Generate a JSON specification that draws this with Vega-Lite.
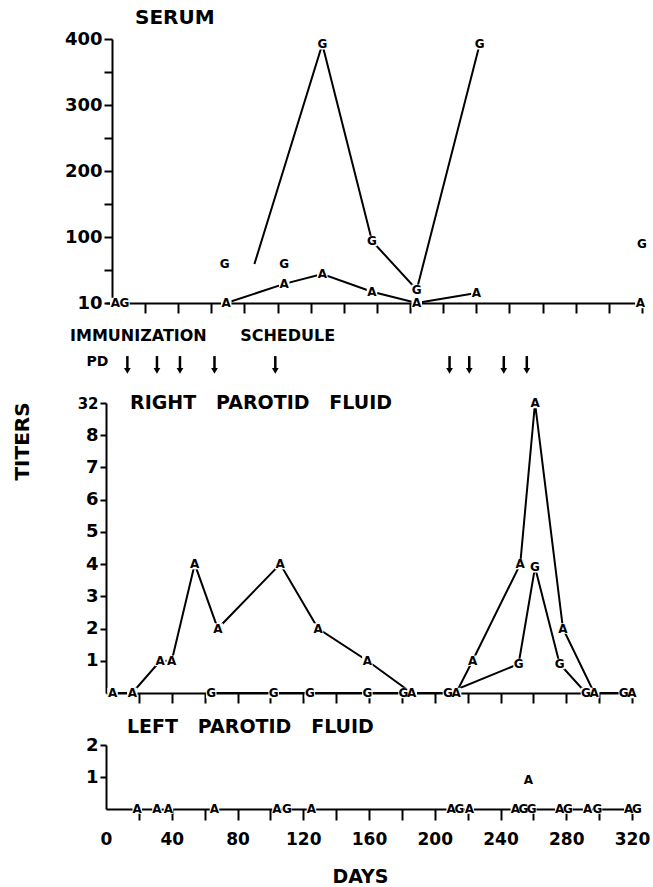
{
  "$schema": "https://vega.github.io/schema/vega-lite/v6.json",
  "padding": {"left": 12, "top": 8, "right": 5, "bottom": 5},
  "spacing": 14,
  "config": {
    "view": {"stroke": null},
    "font": "DejaVu Sans",
    "axis": {"domainColor": "black", "domainWidth": 2, "tickColor": "black", "tickWidth": 2, "labelColor": "black", "labelFont": "DejaVu Sans", "labelFontWeight": "bold", "grid": false, "titleColor": "black", "titleFont": "DejaVu Sans", "titleFontWeight": "bold"},
    "title": {"font": "DejaVu Sans", "fontWeight": "bold", "color": "black", "anchor": "start", "frame": "group"},
    "text": {"font": "DejaVu Sans"}
  },
  "resolve": {"scale": {"x": "independent", "y": "independent"}},
  "datasets": {
    "serum": [
      {"day": 2, "value": 0, "letter": "A", "line": null},
      {"day": 7.5, "value": 0, "letter": "G", "line": null},
      {"day": 68, "value": 59, "letter": "G", "line": null},
      {"day": 104, "value": 59, "letter": "G", "line": null},
      {"day": 86, "value": 59, "letter": "", "line": "G"},
      {"day": 127, "value": 392, "letter": "G", "line": "G"},
      {"day": 157, "value": 94, "letter": "G", "line": "G"},
      {"day": 184, "value": 20, "letter": "G", "line": "G"},
      {"day": 222, "value": 392, "letter": "G", "line": "G"},
      {"day": 320, "value": 89, "letter": "G", "line": null},
      {"day": 69, "value": 0, "letter": "A", "line": "A"},
      {"day": 104, "value": 29, "letter": "A", "line": "A"},
      {"day": 127, "value": 44, "letter": "A", "line": "A"},
      {"day": 157, "value": 17, "letter": "A", "line": "A"},
      {"day": 184, "value": 0, "letter": "A", "line": "A"},
      {"day": 220, "value": 15, "letter": "A", "line": "A"},
      {"day": 319, "value": 0, "letter": "A", "line": null}
    ],
    "schedule": [
      {"day": 13}, {"day": 31}, {"day": 45}, {"day": 66}, {"day": 103},
      {"day": 209}, {"day": 221}, {"day": 242}, {"day": 256}
    ],
    "right": [
      {"day": 4, "value": 0, "letter": "A", "line": "A"},
      {"day": 16, "value": 0, "letter": "A", "line": "A"},
      {"day": 33, "value": 1, "letter": "A", "line": "A"},
      {"day": 40, "value": 1, "letter": "A", "line": "A"},
      {"day": 54, "value": 4, "letter": "A", "line": "A"},
      {"day": 68, "value": 2, "letter": "A", "line": "A"},
      {"day": 106, "value": 4, "letter": "A", "line": "A"},
      {"day": 129, "value": 2, "letter": "A", "line": "A"},
      {"day": 159, "value": 1, "letter": "A", "line": "A"},
      {"day": 186, "value": 0, "letter": "A", "line": "A"},
      {"day": 213, "value": 0, "letter": "A", "line": "A"},
      {"day": 223, "value": 1, "letter": "A", "line": "A"},
      {"day": 252, "value": 4, "letter": "A", "line": "A"},
      {"day": 261, "value": 9, "letter": "A", "line": "A"},
      {"day": 278, "value": 2, "letter": "A", "line": "A"},
      {"day": 297, "value": 0, "letter": "A", "line": "A"},
      {"day": 320, "value": 0, "letter": "A", "line": "A"},
      {"day": 64, "value": 0, "letter": "G", "line": "G"},
      {"day": 102, "value": 0, "letter": "G", "line": "G"},
      {"day": 124, "value": 0, "letter": "G", "line": "G"},
      {"day": 159, "value": 0, "letter": "G", "line": "G"},
      {"day": 181, "value": 0, "letter": "G", "line": "G"},
      {"day": 208, "value": 0, "letter": "G", "line": "G"},
      {"day": 251, "value": 0.9, "letter": "G", "line": "G"},
      {"day": 261, "value": 3.9, "letter": "G", "line": "G"},
      {"day": 276, "value": 0.9, "letter": "G", "line": "G"},
      {"day": 292, "value": 0, "letter": "G", "line": "G"},
      {"day": 315, "value": 0, "letter": "G", "line": "G"}
    ],
    "left": [
      {"day": 19, "value": 0, "letter": "A"},
      {"day": 31, "value": 0, "letter": "A"},
      {"day": 38, "value": 0, "letter": "A"},
      {"day": 66, "value": 0, "letter": "A"},
      {"day": 104, "value": 0, "letter": "A"},
      {"day": 110, "value": 0, "letter": "G"},
      {"day": 125, "value": 0, "letter": "A"},
      {"day": 210, "value": 0, "letter": "A"},
      {"day": 215, "value": 0, "letter": "G"},
      {"day": 221, "value": 0, "letter": "A"},
      {"day": 249, "value": 0, "letter": "A"},
      {"day": 254, "value": 0, "letter": "G"},
      {"day": 259, "value": 0, "letter": "G"},
      {"day": 257, "value": 0.9, "letter": "A"},
      {"day": 276, "value": 0, "letter": "A"},
      {"day": 281, "value": 0, "letter": "G"},
      {"day": 293, "value": 0, "letter": "A"},
      {"day": 299, "value": 0, "letter": "G"},
      {"day": 318, "value": 0, "letter": "A"},
      {"day": 323, "value": 0, "letter": "G"}
    ]
  },
  "vconcat": [
    {
      "width": 536,
      "height": 264,
      "title": {"text": "SERUM", "fontSize": 20, "dx": 29, "offset": 2},
      "data": {"name": "serum"},
      "encoding": {
        "x": {"field": "day", "type": "quantitative", "scale": {"domain": [-3.6, 320], "nice": false, "zero": false},
          "axis": {"values": [20, 40, 60, 80, 100, 120, 140, 160, 180, 200, 220, 240, 260, 280, 300, 320], "labels": false, "tickSize": 10, "title": null}},
        "y": {"field": "value", "type": "quantitative", "scale": {"domain": [0, 400], "nice": false},
          "axis": {"values": [0, 50, 100, 150, 200, 250, 300, 350, 400], "labelExpr": "datum.value == 0 ? '10' : (datum.value % 100 == 0 ? datum.label : '')", "tickSize": 8, "labelPadding": 2, "labelFontSize": 18, "title": null, "offset": -6}}
      },
      "layer": [
        {"transform": [{"filter": "datum.line != null"}], "mark": {"type": "line", "color": "black", "strokeWidth": 2}, "encoding": {"detail": {"field": "line"}, "order": {"field": "day"}}},
        {"transform": [{"filter": "datum.letter != ''"}], "mark": {"type": "point", "shape": "square", "filled": true, "color": "white", "opacity": 1, "size": 110}},
        {"transform": [{"filter": "datum.letter != ''"}], "mark": {"type": "text", "fontSize": 12, "fontWeight": "bold", "color": "black", "baseline": "middle", "align": "center"}, "encoding": {"text": {"field": "letter"}}}
      ]
    },
    {
      "width": 526,
      "height": 26,
      "title": {"text": "IMMUNIZATION\u00a0\u00a0\u00a0\u00a0\u00a0\u00a0SCHEDULE", "fontSize": 16, "dx": -36, "offset": 10},
      "layer": [
        {"data": {"name": "schedule"},
          "mark": {"type": "rule", "color": "black", "strokeWidth": 2.5},
          "encoding": {
            "x": {"field": "day", "type": "quantitative", "scale": {"domain": [0, 320], "nice": false}, "axis": null},
            "y": {"datum": 0.92, "type": "quantitative", "scale": {"domain": [0, 1]}, "axis": null},
            "y2": {"datum": 0.45}
          }},
        {"data": {"name": "schedule"},
          "mark": {"type": "point", "shape": "triangle-down", "filled": true, "color": "black", "opacity": 1, "size": 45},
          "encoding": {
            "x": {"field": "day", "type": "quantitative", "scale": {"domain": [0, 320], "nice": false}, "axis": null},
            "y": {"datum": 0.35, "type": "quantitative", "scale": {"domain": [0, 1]}, "axis": null}
          }},
        {"data": {"values": [{"label": "PD"}]},
          "mark": {"type": "text", "fontSize": 14, "fontWeight": "bold", "color": "black", "align": "right", "baseline": "middle"},
          "encoding": {
            "text": {"field": "label"},
            "x": {"datum": 1.5, "type": "quantitative"},
            "y": {"datum": 0.7, "type": "quantitative"}
          }}
      ]
    },
    {
      "width": 526,
      "height": 290,
      "title": {"text": "RIGHT\u00a0\u00a0\u00a0PAROTID\u00a0\u00a0\u00a0FLUID", "fontSize": 19, "dx": 24, "offset": -17},
      "data": {"name": "right"},
      "encoding": {
        "x": {"field": "day", "type": "quantitative", "scale": {"domain": [0, 320], "nice": false},
          "axis": {"values": [20, 40, 60, 80, 100, 120, 140, 160, 180, 200, 220, 240, 260, 280, 300, 320], "labels": false, "tickSize": 10, "title": null}},
        "y": {"field": "value", "type": "quantitative", "scale": {"domain": [0, 9], "nice": false},
          "axis": {"values": [1, 2, 3, 4, 5, 6, 7, 8, 9], "labelExpr": "datum.value == 9 ? '32' : datum.label", "tickSize": 6, "labelPadding": 2,
            "labelFontSize": {"condition": {"test": "datum.value == 9", "value": 15}, "value": 18},
            "title": "TITERS", "titleFontSize": 20, "titleX": -84, "titleY": 38, "titleAngle": 270, "titleAlign": "center", "titleBaseline": "middle"}}
      },
      "layer": [
        {"mark": {"type": "line", "color": "black", "strokeWidth": 2}, "encoding": {"detail": {"field": "line"}, "order": {"field": "day"}}},
        {"mark": {"type": "point", "shape": "square", "filled": true, "color": "white", "opacity": 1, "size": 110}},
        {"mark": {"type": "text", "fontSize": 12, "fontWeight": "bold", "color": "black", "baseline": "middle", "align": "center"}, "encoding": {"text": {"field": "letter"}}}
      ]
    },
    {
      "width": 526,
      "height": 64,
      "title": {"text": "LEFT\u00a0\u00a0\u00a0PAROTID\u00a0\u00a0\u00a0FLUID", "fontSize": 19, "dx": 21, "offset": -1},
      "data": {"name": "left"},
      "encoding": {
        "x": {"field": "day", "type": "quantitative", "scale": {"domain": [0, 320], "nice": false},
          "axis": {"values": [0, 20, 40, 60, 80, 100, 120, 140, 160, 180, 200, 220, 240, 260, 280, 300, 320], "labelExpr": "datum.value % 40 == 0 ? datum.label : ''",
            "tickOpacity": {"condition": {"test": "datum.value == 0", "value": 0}, "value": 1},
            "tickSize": 11, "labelPadding": 11, "labelFontSize": 17, "labelFlush": false,
            "title": "DAYS", "titleFontSize": 19, "titlePadding": 20, "titleX": 254, "titleAlign": "center"}},
        "y": {"field": "value", "type": "quantitative", "scale": {"domain": [0, 2], "nice": false},
          "axis": {"values": [1, 2], "tickSize": 6, "labelPadding": 2, "labelFontSize": 18, "title": null}}
      },
      "layer": [
        {"mark": {"type": "point", "shape": "square", "filled": true, "color": "white", "opacity": 1, "size": 90}},
        {"mark": {"type": "text", "fontSize": 12, "fontWeight": "bold", "color": "black", "baseline": "middle", "align": "center"}, "encoding": {"text": {"field": "letter"}}}
      ]
    }
  ]
}
